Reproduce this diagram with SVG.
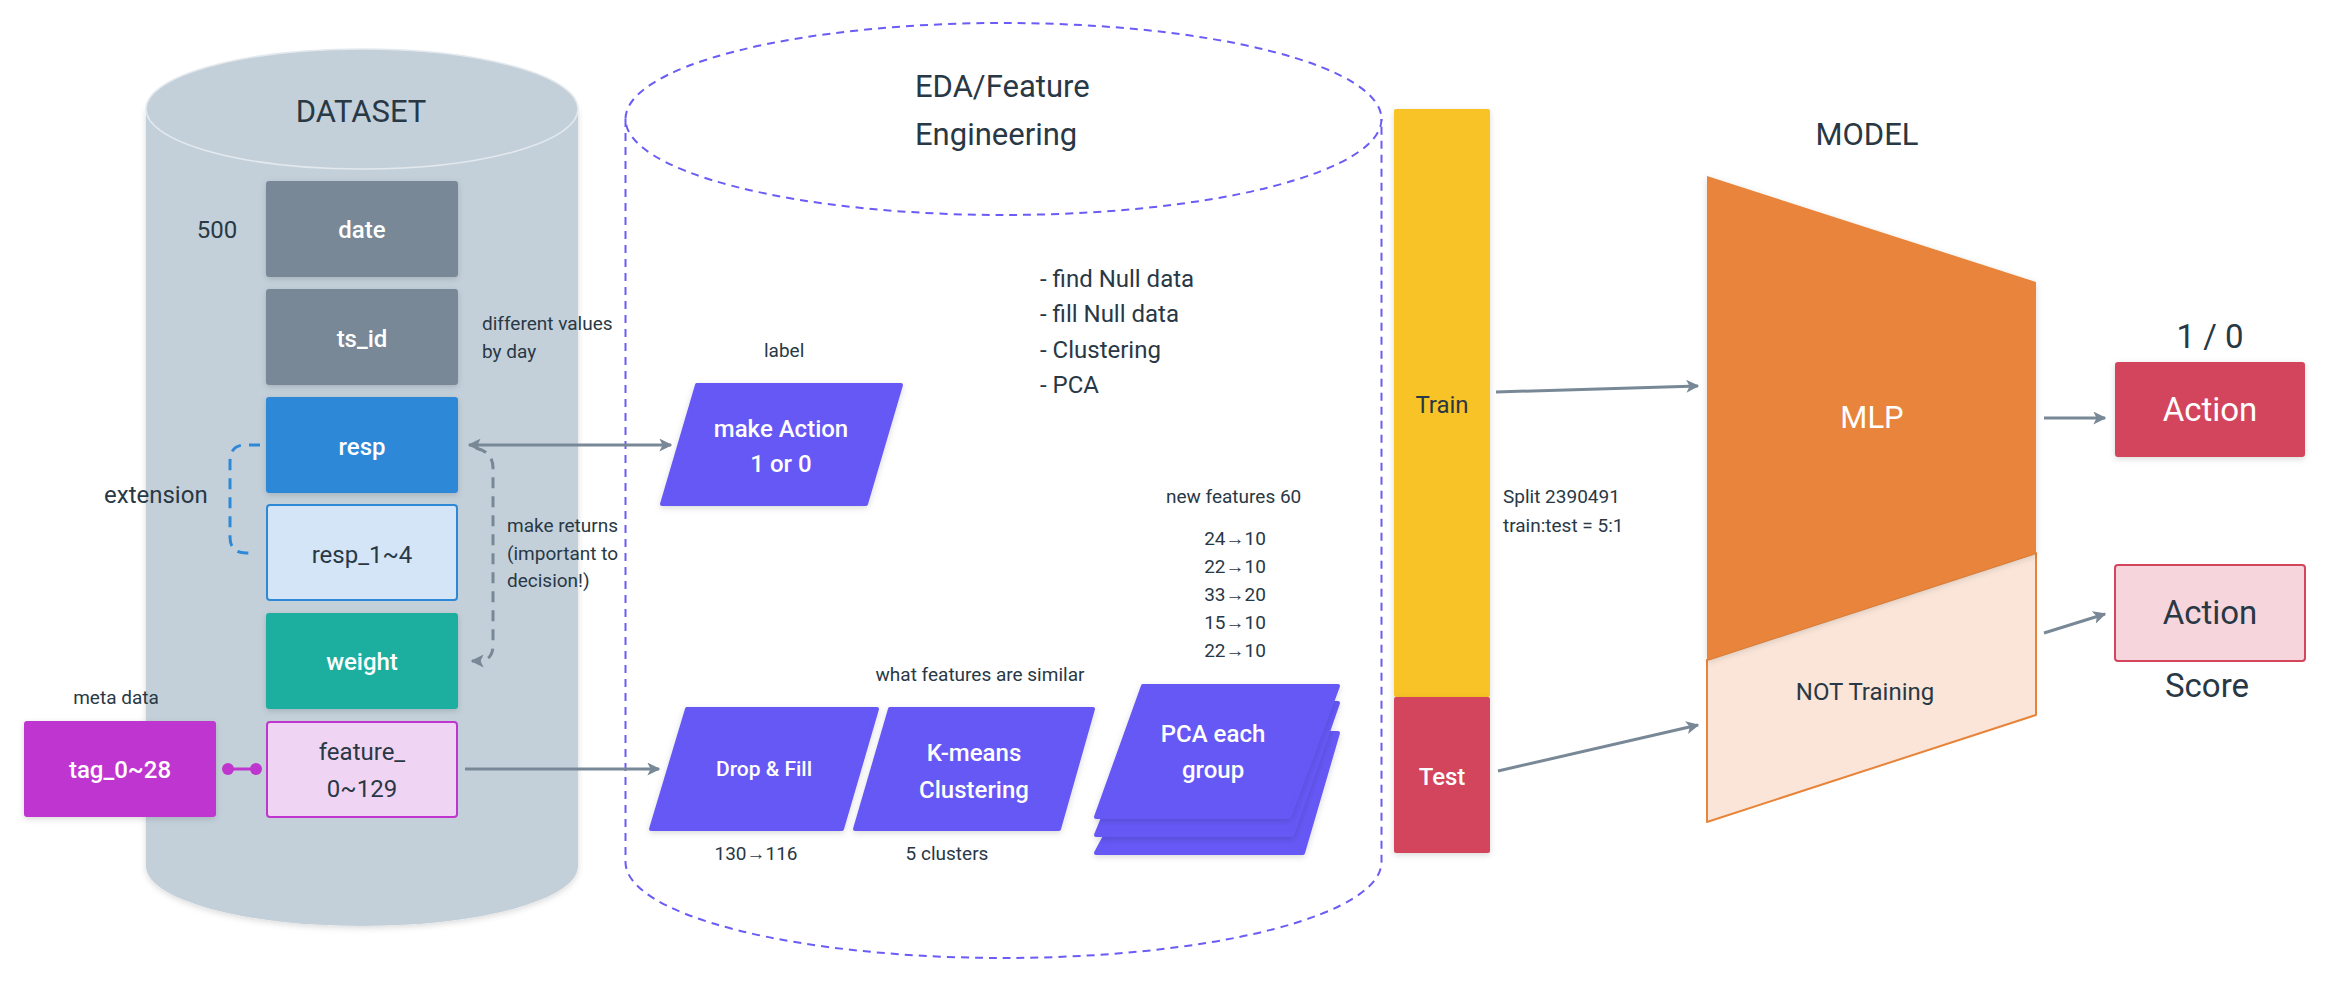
<svg xmlns="http://www.w3.org/2000/svg" width="2330" height="983" viewBox="0 0 2330 983">
<defs>
<style>
text{font-family:Roboto,"Liberation Sans",sans-serif;fill:#293845}
.w{fill:#ffffff}
.b{font-weight:500}
.s{font-size:19px}
.m{font-size:24px}
.l{font-size:31px}
.xl{font-size:33px}
.c{text-anchor:middle}
.conn{fill:none;stroke:#788896;stroke-width:3}
.dash{stroke-dasharray:11 8}
.par{fill:#6558f5;stroke:#6558f5;stroke-width:4;stroke-linejoin:round}
</style>
<filter id="sh" x="-10%" y="-10%" width="120%" height="130%">
<feDropShadow dx="0" dy="2" stdDeviation="3" flood-color="#000" flood-opacity="0.15"/>
</filter>
<marker id="arr" viewBox="0 0 10 10" refX="9" refY="5" markerWidth="13" markerHeight="13" markerUnits="userSpaceOnUse" orient="auto">
<path d="M0,0 L10,5 L0,10 L2.5,5 Z" fill="#788896"/>
</marker>
<marker id="arrS" viewBox="0 0 10 10" refX="1" refY="5" markerWidth="13" markerHeight="13" markerUnits="userSpaceOnUse" orient="auto">
<path d="M10,0 L0,5 L10,10 L7.5,5 Z" fill="#788896"/>
</marker>
<marker id="dot" viewBox="0 0 10 10" refX="5" refY="5" markerWidth="12" markerHeight="12" markerUnits="userSpaceOnUse">
<circle cx="5" cy="5" r="5" fill="#bf36cf"/>
</marker>
</defs>
<rect width="2330" height="983" fill="#ffffff"/>

<g id="dataset">
<path d="M146,109 L146,866 A216,60 0 0 0 578,866 L578,109 Z" fill="#c3d0da" filter="url(#sh)"/>
<ellipse cx="362" cy="109" rx="216" ry="60" fill="#c3d0da" stroke="#e4e9ee" stroke-width="1.5"/>
<text x="361" y="122" class="l c">DATASET</text>
<text x="217" y="238" class="m c">500</text>
</g>

<g id="eda">
<path d="M625.5,119 L625.5,862 A378,96 0 0 0 1381.5,862 L1381.5,119" fill="none" stroke="#6a5cf5" stroke-width="2" stroke-dasharray="8 6"/>
<ellipse cx="1003.5" cy="119" rx="378" ry="96" fill="none" stroke="#6a5cf5" stroke-width="2" stroke-dasharray="8 6"/>
<text x="915" y="97" class="l">EDA/Feature</text>
<text x="915" y="145" class="l">Engineering</text>
<text x="1040" y="287" class="m">- find Null data</text>
<text x="1040" y="322" class="m">- fill Null data</text>
<text x="1040" y="358" class="m">- Clustering</text>
<text x="1040" y="393" class="m">- PCA</text>
<text x="764" y="357" class="s">label</text>
<text x="1166" y="503" class="s">new features 60</text>
<text x="1235" y="545" class="s c">24→10</text>
<text x="1235" y="573" class="s c">22→10</text>
<text x="1235" y="601" class="s c">33→20</text>
<text x="1235" y="629" class="s c">15→10</text>
<text x="1235" y="657" class="s c">22→10</text>
<text x="980" y="681" class="s c">what features are similar</text>
<text x="756" y="860" class="s c">130→116</text>
<text x="947" y="860" class="s c">5 clusters</text>
</g>

<g id="date"><rect x="266" y="181" width="192" height="96" rx="3" fill="#788896" filter="url(#sh)"/><text x="362" y="238" class="m c w b">date</text></g>
<g id="ts_id"><rect x="266" y="289" width="192" height="96" rx="3" fill="#788896" filter="url(#sh)"/><text x="362" y="347" class="m c w b">ts_id</text>
<text x="482" y="330" class="s">different values</text><text x="482" y="358" class="s">by day</text></g>
<g id="resp"><rect x="266" y="397" width="192" height="96" rx="3" fill="#2e88d8" filter="url(#sh)"/><text x="362" y="455" class="m c w b">resp</text></g>
<g id="resp14"><rect x="267" y="505" width="190" height="95" rx="3" fill="#d3e5f6" stroke="#2e88d8" stroke-width="2"/><text x="362" y="563" class="m c">resp_1~4</text></g>
<g id="weight"><rect x="266" y="613" width="192" height="96" rx="3" fill="#1aae9f" filter="url(#sh)"/><text x="362" y="670" class="m c w b">weight</text></g>
<g id="feature"><rect x="267" y="722" width="190" height="95" rx="3" fill="#f0d4f4" stroke="#bf36cf" stroke-width="2"/><text x="362" y="760" class="m c">feature_</text><text x="362" y="797" class="m c">0~129</text></g>
<g id="tag"><rect x="24" y="721" width="192" height="96" rx="3" fill="#bf36cf" filter="url(#sh)"/><text x="120" y="778" class="m c w b">tag_0~28</text>
<text x="116" y="704" class="s c">meta data</text></g>
<g id="extension-label"><text x="104" y="503" class="m">extension</text></g>
<g id="returns-label"><text x="507" y="532" class="s">make returns</text><text x="507" y="560" class="s">(important to</text><text x="507" y="587" class="s">decision!)</text></g>

<g id="makeAction"><polygon points="697,385 901,385 866,504 662,504" class="par" filter="url(#sh)"/><text x="781" y="437" class="m c w b">make Action</text><text x="781" y="472" class="m c w b">1 or 0</text></g>
<g id="dropFill"><polygon points="687,709 877,709 842,829 651,829" class="par" filter="url(#sh)"/><text x="764" y="776" class="c w b" style="font-size:21px">Drop &amp; Fill</text></g>
<g id="kmeans"><polygon points="890,709 1093,709 1059,829 855,829" class="par" filter="url(#sh)"/><text x="974" y="761" class="m c w b">K-means</text><text x="974" y="798" class="m c w b">Clustering</text></g>
<g id="pca">
<polygon points="1160,733 1338,733 1303,853 1096,853" class="par" filter="url(#sh)"/>
<polygon points="1150,703 1338,703 1292,835 1096,835" class="par" filter="url(#sh)"/>
<polygon points="1143,686 1338,686 1289,817 1096,817" class="par" filter="url(#sh)"/>
<text x="1213" y="742" class="m c w b">PCA each</text><text x="1213" y="778" class="m c w b">group</text>
</g>

<g id="train"><rect x="1394" y="109" width="96" height="588" rx="2" fill="#f7c325" filter="url(#sh)"/><text x="1442" y="413" class="m c">Train</text></g>
<g id="test"><rect x="1394" y="697" width="96" height="156" rx="2" fill="#d3455b" filter="url(#sh)"/><text x="1442" y="785" class="m c w b">Test</text></g>
<g id="split"><text x="1503" y="503" class="s">Split 2390491</text><text x="1503" y="532" class="s">train:test = 5:1</text></g>

<g id="model">
<text x="1867" y="145" class="l c">MODEL</text>
<polygon points="1707,660 2036,553 2036,715 1707,822" fill="#fae5d8" stroke="#e8843a" stroke-width="2" stroke-linejoin="round"/>
<polygon points="1707,176 2036,282 2036,553 1707,660" fill="#e8843a" filter="url(#sh)"/>
<text x="1872" y="428" class="l c w">MLP</text>
<text x="1865" y="700" class="m c">NOT Training</text>
</g>

<g id="action"><text x="2210" y="348" class="xl c">1 / 0</text><rect x="2115" y="362" width="190" height="95" rx="3" fill="#d3455b" filter="url(#sh)"/><text x="2210" y="421" class="xl c w">Action</text></g>
<g id="actionScore"><rect x="2115" y="565" width="190" height="96" rx="3" fill="#f6d6dc" stroke="#d3455b" stroke-width="2"/><text x="2210" y="624" class="xl c">Action</text><text x="2207" y="697" class="xl c">Score</text></g>

<g id="connectors">
<line x1="469" y1="445" x2="671" y2="445" class="conn" marker-start="url(#arrS)" marker-end="url(#arr)"/>
<line x1="465" y1="769" x2="659" y2="769" class="conn" marker-end="url(#arr)"/>
<line x1="228" y1="769" x2="256" y2="769" stroke="#bf36cf" stroke-width="3" marker-start="url(#dot)" marker-end="url(#dot)"/>
<path d="M260,445 L245,445 Q230,445 230,462 L230,537 Q230,553 246,553 L252,553" fill="none" stroke="#2e88d8" stroke-width="3" class="dash"/>
<path d="M476,448 Q493,452 493,468 L493,645 Q493,661 478,661 L472,661" class="conn dash" marker-end="url(#arr)"/>
<line x1="1496" y1="392" x2="1698" y2="386" class="conn" marker-end="url(#arr)"/>
<line x1="1498" y1="771" x2="1698" y2="725" class="conn" marker-end="url(#arr)"/>
<line x1="2044" y1="418" x2="2105" y2="418" class="conn" marker-end="url(#arr)"/>
<line x1="2044" y1="633" x2="2105" y2="614" class="conn" marker-end="url(#arr)"/>
</g>
</svg>
